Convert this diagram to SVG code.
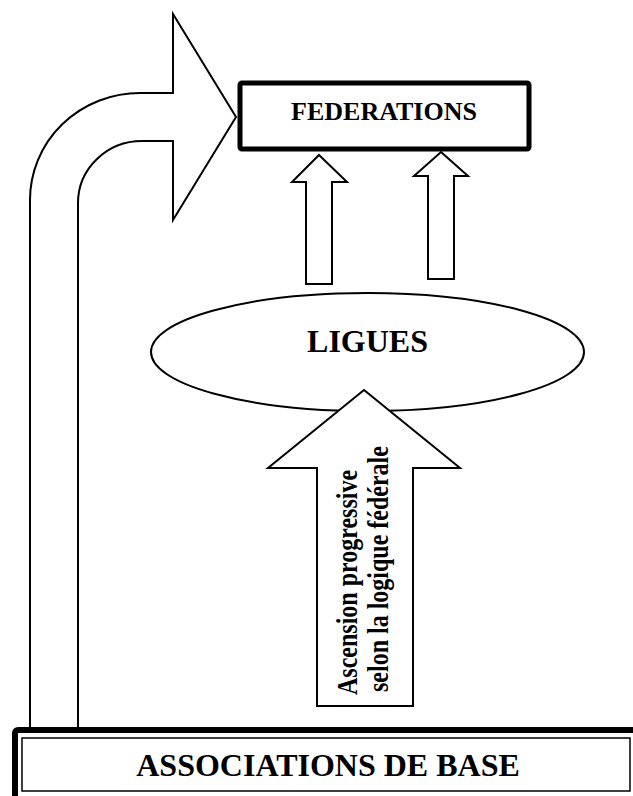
<svg xmlns="http://www.w3.org/2000/svg" width="633" height="796" viewBox="0 0 633 796">
<style>
.lbl{font-family:"Liberation Serif","Times New Roman",serif;font-weight:bold;fill:#000}
.arr{fill:#fff;stroke:#000;stroke-width:2;stroke-linejoin:miter}
</style>
<rect x="0" y="0" width="633" height="796" fill="#fff"/>
<g id="ligues">
<ellipse cx="367.5" cy="352" rx="216.5" ry="59" fill="#fff" stroke="#000" stroke-width="2"/>
<text class="lbl" x="367.5" y="352" font-size="32" text-anchor="middle">LIGUES</text>
</g>
<g id="federations">
<rect x="240" y="83" width="289" height="66" rx="2" fill="#fff" stroke="#000" stroke-width="5"/>
<text class="lbl" x="384" y="120" font-size="26" text-anchor="middle">FEDERATIONS</text>
</g>
<g id="associations">
<rect x="15" y="730" width="640" height="80" rx="3" fill="#fff" stroke="#000" stroke-width="6"/>
<rect x="22" y="738" width="608" height="53" fill="none" stroke="#000" stroke-width="1.5"/>
<text class="lbl" x="328" y="776" font-size="32" text-anchor="middle">ASSOCIATIONS DE BASE</text>
</g>
<g id="connectors">
<path class="arr" d="M30,728 L30,200 A110,107 0 0 1 140,93 L173,93 L173,14 L236,117 L173,220 L173,141 L142,141 A64,62 0 0 0 78,203 L78,728 Z"/>
<path class="arr" d="M319,155 L347,182 L332,182 L332,284 L306,284 L306,182 L292,182 Z"/>
<path class="arr" d="M441,152 L468,176 L454,176 L454,279 L428,279 L428,176 L414,176 Z"/>
<path class="arr" d="M364,390 L460,468 L413,468 L413,706 L317,706 L317,468 L268,468 Z"/>
<text class="lbl" font-size="24" transform="translate(357,695) rotate(-90) scale(1,1.2)">Ascension progressive</text>
<text class="lbl" font-size="24" transform="translate(388,692) rotate(-90) scale(1,1.2)">selon la logique fédérale</text>
</g>
</svg>
